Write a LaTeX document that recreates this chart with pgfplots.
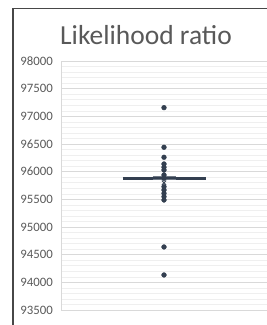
\documentclass[border=0pt]{standalone}
\usepackage{fontspec}
\setmainfont{Carlito}
\usepackage{pgfplots}
\pgfplotsset{compat=1.18}
\definecolor{txt}{HTML}{595959}
\definecolor{boxc}{HTML}{333F50}
\definecolor{majg}{HTML}{D9D9D9}
\definecolor{ming}{HTML}{EFEFEF}
\begin{document}
\begin{tikzpicture}
\useasboundingbox (0,0) rectangle (267pt,325pt);
\draw[color=txt!80!black, line width=1pt] (13pt,0) -- (13pt,317pt) -- (267pt,317pt);
\node[anchor=base, text=txt, font=\fontsize{27.5}{32}\selectfont, inner sep=0pt] at (146pt,280pt) {Likelihood ratio};
\begin{axis}[
  at={(61pt,15pt)}, anchor=south west,
  scale only axis, width=206pt, height=249pt,
  xmin=0, xmax=2, ymin=93500, ymax=98000,
  xtick=\empty,
  ytick={93500,94000,...,98000},
  minor y tick num=4,
  ymajorgrids, yminorgrids,
  major grid style={majg, line width=0.8pt},
  minor grid style={ming, line width=0.6pt},
  axis lines*=left,
  axis line style={majg, line width=0.8pt},
  major tick length=0pt, minor tick length=0pt,
  scaled ticks=false,
  /pgf/number format/assume math mode=true,
  /pgf/number format/.cd, set thousands separator={}, fixed, precision=0,
  /pgfplots/.cd,
  yticklabel style={text=txt, font=\fontsize{12.8}{14}\selectfont, inner xsep=0pt, xshift=-8pt},
  clip=false,
]
\addplot[line width=2.6pt, boxc] coordinates {(0.60,95880) (1.41,95880)};
\addplot[line width=1pt, boxc!70!white] coordinates {(0.89,95905) (1.12,95905)};
\addplot[line width=1pt, boxc!70!white] coordinates {(0.89,95852) (1.12,95852)};
\addplot[line width=0.8pt, boxc] coordinates {(1,95852) (1,95905)};
\addplot[only marks, mark=x, mark size=3pt, boxc, line width=0.9pt] coordinates {(1,95800)};
\addplot[only marks, mark=*, mark size=2.4pt, boxc, draw=boxc] coordinates {
(1,97157) (1,96441) (1,96260) (1,96139) (1,96080) (1,96030) (1,95940) (1,95880)
(1,95729) (1,95669) (1,95609) (1,95548) (1,95488) (1,94639) (1,94133)
};
\end{axis}
\end{tikzpicture}
\end{document}
